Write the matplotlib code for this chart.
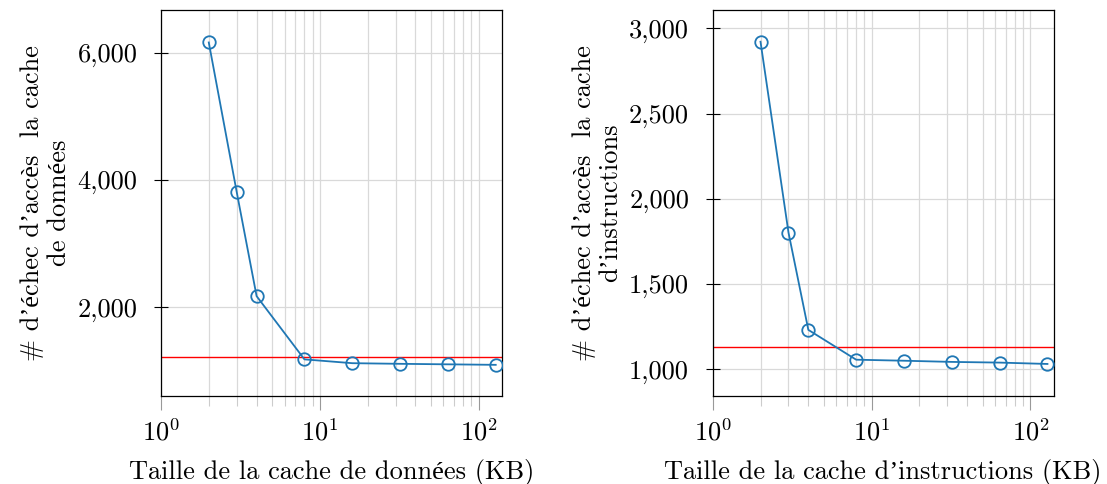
import matplotlib.pyplot as plt
from matplotlib.ticker import FuncFormatter, LogLocator, NullFormatter

plt.rcParams['font.family'] = ['cmr10', 'Liberation Serif']
plt.rcParams['mathtext.fontset'] = 'cm'
plt.rcParams['axes.formatter.use_mathtext'] = True

# cache sizes (KB)
sizes = [2, 3, 4, 8, 16, 32, 64, 128]
# data cache misses
data_misses = [6160, 3805, 2172, 1178, 1118, 1108, 1100, 1092]
data_ref = 1212
# instruction cache misses
instr_misses = [2921, 1802, 1231, 1056, 1050, 1043, 1039, 1031]
instr_ref = 1133

xlabels = ["Taille de la cache de données (KB)", "Taille de la cache d’instructions (KB)"]
ylabels = ["# d’échec d’accès  la cache\nde données", "# d’échec d’accès  la cache\nd’instructions"]
ylims = [(602, 6670), (843, 3107)]
yticks = [[2000, 4000, 6000], [1000, 1500, 2000, 2500, 3000]]

fig = plt.figure(figsize=(11.07, 4.84), dpi=100)
ax1 = fig.add_axes([0.1454, 0.1818, 0.308, 0.7975])
ax2 = fig.add_axes([0.6438, 0.1818, 0.308, 0.7975])

blue = "#1f77b4"
for i, (ax, ys, ref) in enumerate([(ax1, data_misses, data_ref), (ax2, instr_misses, instr_ref)]):
    ax.set_xscale("log")
    ax.set_xlim(1, 140)
    ax.set_ylim(*ylims[i])
    ax.axhline(ref, color="red", lw=1, zorder=2)
    ax.plot(sizes, ys, color=blue, lw=1.3, marker="o", ms=9, mfc="none", mew=1.3, zorder=3)
    ax.set_yticks(yticks[i])
    ax.yaxis.set_major_formatter(FuncFormatter(lambda v, p: "{:,.0f}".format(v)))
    ax.xaxis.set_major_locator(LogLocator(base=10, numticks=5))
    ax.xaxis.set_minor_locator(LogLocator(base=10, subs=range(2, 10), numticks=20))
    ax.xaxis.set_minor_formatter(NullFormatter())
    ax.grid(True, which="major", color="#d9d9d9", lw=0.9, zorder=0)
    ax.grid(True, which="minor", axis="x", color="#d9d9d9", lw=0.9, zorder=0)
    ax.set_axisbelow(True)
    ax.tick_params(axis="y", direction="inout", length=10, width=0.8, labelsize=19, pad=12)
    ax.tick_params(axis="x", which="major", direction="out", length=10, width=0.8,
                   labelsize=19, color="#999999", pad=6)
    ax.tick_params(axis="x", which="minor", direction="out", length=7, width=0.8, color="#cccccc")
    for s in ax.spines.values():
        s.set_linewidth(0.9)
    ax.set_xlabel(xlabels[i], fontsize=19, labelpad=10)
    ax.set_ylabel(ylabels[i], fontsize=19, linespacing=1.15, labelpad=5)

fig.savefig("out.png", dpi=100)
